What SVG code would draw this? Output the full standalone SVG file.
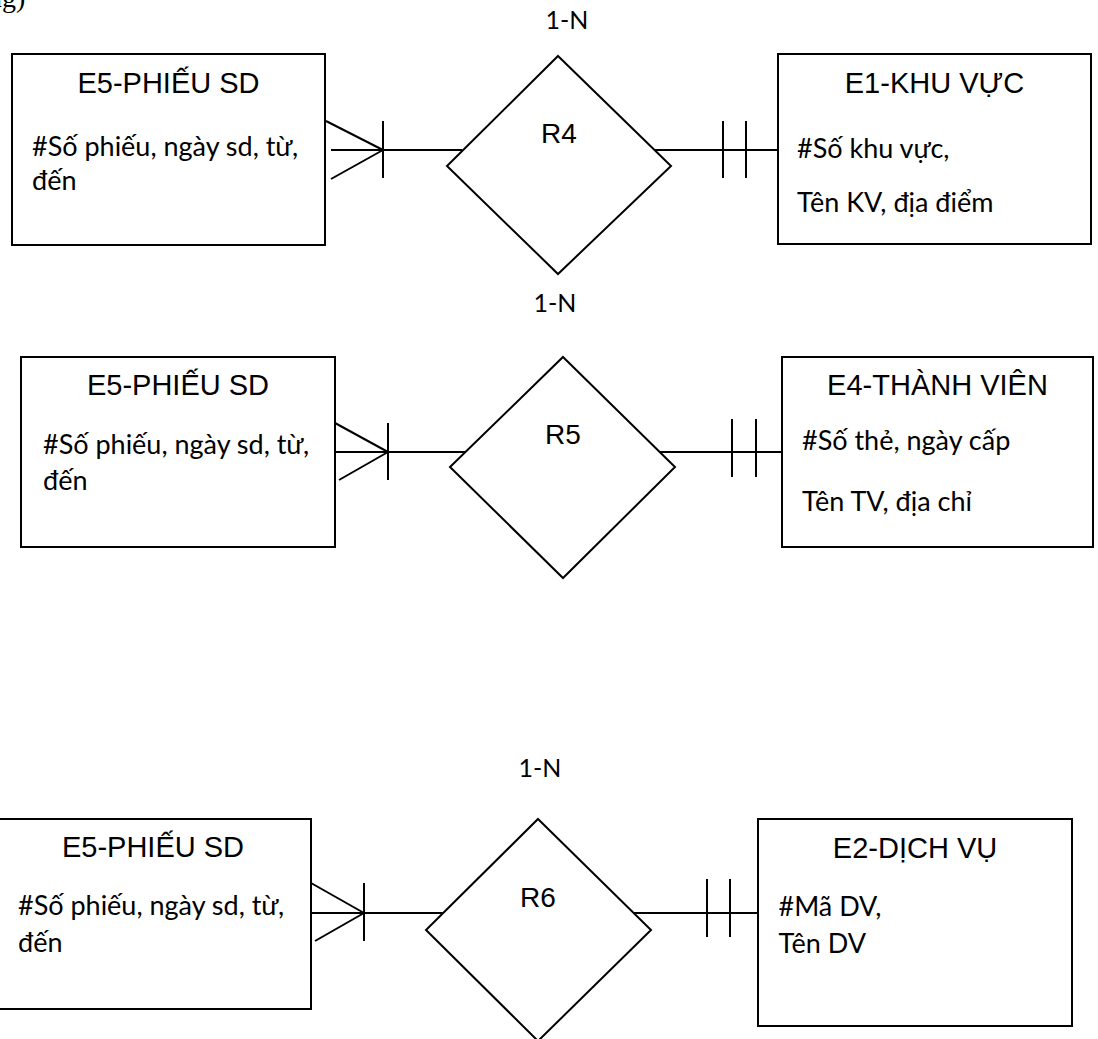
<svg xmlns="http://www.w3.org/2000/svg" width="1098" height="1039" viewBox="0 0 1098 1039">
<style>
.box{fill:#fff;stroke:#000;stroke-width:2}
.dia{fill:#fff;stroke:#000;stroke-width:2}
.ln{stroke:#000;stroke-width:2;fill:none}
.title{font-family:"Liberation Sans",Arial,sans-serif;font-size:29px;text-anchor:middle;fill:#000}
.rel{font-family:"Liberation Sans",Arial,sans-serif;font-size:28px;text-anchor:middle;fill:#000}
.attr{font-family:Lato,"Noto Sans",sans-serif;font-size:27px;fill:#000}
.card{font-family:Lato,"Noto Sans",sans-serif;font-size:25px;text-anchor:middle;fill:#000}
.frag{font-family:"Liberation Serif","Times New Roman",serif;font-size:28px;fill:#000}
</style>
<rect width="1098" height="1039" fill="#fff"/>
<text class="frag" x="-12" y="7">ng)</text>

<g id="connectors">
  <!-- Row 1 -->
  <line class="ln" x1="326" y1="121" x2="383" y2="150"/>
  <line class="ln" x1="331" y1="179" x2="383" y2="150"/>
  <line class="ln" x1="331" y1="150" x2="462" y2="150"/>
  <line class="ln" x1="383" y1="121" x2="383" y2="178"/>
  <line class="ln" x1="654" y1="150" x2="778" y2="150"/>
  <line class="ln" x1="723" y1="121" x2="723" y2="178"/>
  <line class="ln" x1="746" y1="121" x2="746" y2="178"/>
  <!-- Row 2 -->
  <line class="ln" x1="335" y1="423" x2="388" y2="452"/>
  <line class="ln" x1="339" y1="480" x2="388" y2="452"/>
  <line class="ln" x1="335" y1="452" x2="465" y2="452"/>
  <line class="ln" x1="388" y1="423" x2="388" y2="480"/>
  <line class="ln" x1="660" y1="452" x2="782" y2="452"/>
  <line class="ln" x1="732" y1="419" x2="732" y2="477"/>
  <line class="ln" x1="756" y1="419" x2="756" y2="477"/>
  <!-- Row 3 -->
  <line class="ln" x1="311" y1="883" x2="364" y2="913"/>
  <line class="ln" x1="315" y1="941" x2="364" y2="913"/>
  <line class="ln" x1="311" y1="913" x2="443" y2="913"/>
  <line class="ln" x1="364" y1="883" x2="364" y2="941"/>
  <line class="ln" x1="633" y1="913" x2="758" y2="913"/>
  <line class="ln" x1="707" y1="879" x2="707" y2="937"/>
  <line class="ln" x1="730" y1="879" x2="730" y2="937"/>
</g>

<g id="E5-row1">
  <rect class="box" x="12" y="54" width="313" height="191"/>
  <text class="title" x="168.5" y="93">E5-PHIẾU SD</text>
  <text class="attr" x="32" y="156">#Số phiếu, ngày sd, từ,</text>
  <text class="attr" x="32" y="190">đến</text>
</g>
<g id="R4">
  <polygon class="dia" points="558,56 671,166 558,274 447,166"/>
  <text class="rel" x="559" y="143">R4</text>
</g>
<g id="E1">
  <rect class="box" x="778" y="54" width="313" height="190"/>
  <text class="title" x="934.5" y="93">E1-KHU VỰC</text>
  <text class="attr" x="797" y="158">#Số khu vực,</text>
  <text class="attr" x="797" y="212">Tên KV, địa điểm</text>
</g>
<text class="card" x="567" y="29">1-N</text>

<g id="E5-row2">
  <rect class="box" x="21" y="357" width="314" height="190"/>
  <text class="title" x="178" y="395">E5-PHIẾU SD</text>
  <text class="attr" x="43" y="454">#Số phiếu, ngày sd, từ,</text>
  <text class="attr" x="43" y="490">đến</text>
</g>
<g id="R5">
  <polygon class="dia" points="563,357 675,467 563,578 450,467"/>
  <text class="rel" x="563" y="444">R5</text>
</g>
<g id="E4">
  <rect class="box" x="782" y="357" width="311" height="190"/>
  <text class="title" x="937.5" y="395">E4-THÀNH VIÊN</text>
  <text class="attr" x="802" y="450">#Số thẻ, ngày cấp</text>
  <text class="attr" x="802" y="511">Tên TV, địa chỉ</text>
</g>
<text class="card" x="555" y="312">1-N</text>

<g id="E5-row3">
  <rect class="box" x="-5" y="819" width="316" height="190"/>
  <text class="title" x="153" y="857">E5-PHIẾU SD</text>
  <text class="attr" x="18" y="915">#Số phiếu, ngày sd, từ,</text>
  <text class="attr" x="18" y="952">đến</text>
</g>
<g id="R6">
  <polygon class="dia" points="538,819 651,930 538,1041 426,930"/>
  <text class="rel" x="538" y="907">R6</text>
</g>
<g id="E2">
  <rect class="box" x="758" y="819" width="314" height="207"/>
  <text class="title" x="915" y="858">E2-DỊCH VỤ</text>
  <text class="attr" x="778.5" y="916">#Mã DV,</text>
  <text class="attr" x="778.5" y="953">Tên DV</text>
</g>
<text class="card" x="540" y="777">1-N</text>
</svg>
